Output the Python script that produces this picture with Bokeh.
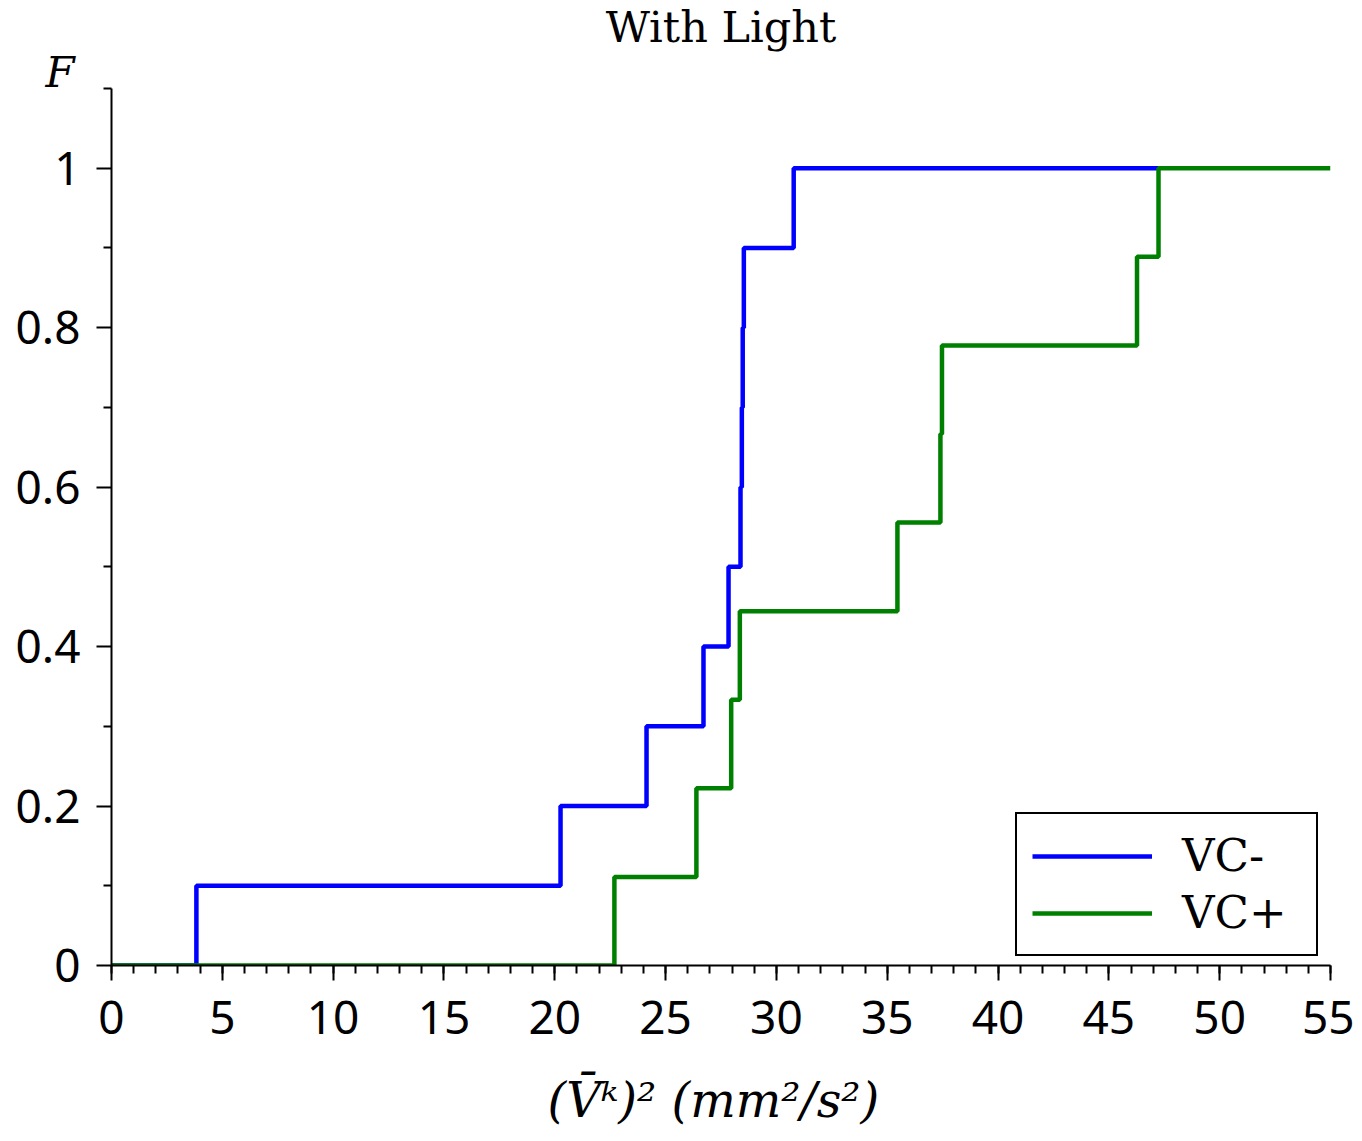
from bokeh.plotting import figure
from bokeh.models import (Range1d, FixedTicker, SingleIntervalTicker, CustomJSTickFormatter,
                          Legend, LegendItem, Title)
from bokeh.embed import file_html
from bokeh.resources import INLINE

# ---- data ----
vc_minus_x = [0.0, 3.83, 20.26, 24.14, 26.71, 27.84, 28.38, 28.44, 28.48, 28.53, 30.78, 47.24]
vc_minus_f = [0.0, 0.1, 0.2, 0.3, 0.4, 0.5, 0.6, 0.7, 0.8, 0.9, 1.0, 1.0]

vc_plus_x = [0.0, 22.69, 26.39, 27.96, 28.35, 35.46, 37.40, 37.47, 46.27, 47.24, 55.0]
vc_plus_f = [0.0, 0.1111, 0.2222, 0.3333, 0.4444, 0.5556, 0.6667, 0.7778, 0.8889, 1.0, 1.0]

x_major_interval = 5
y_major_ticks = [0, 0.2, 0.4, 0.6, 0.8, 1.0]
y_minor_ticks = [0.1, 0.3, 0.5, 0.7, 0.9, 1.1]

title_text = "With Light"
x_label = "(V\u0304\u1d4f)\u00b2  (mm\u00b2/s\u00b2)"
y_label = "F"
series_names = ["VC-", "VC+"]

W, H = 1354, 1136
TOP, BOTTOM, LEFT, RIGHT = 88, 171, 111, 24

p = figure(width=W, height=H, output_backend="svg", toolbar_location=None,
           x_range=Range1d(0, 55), y_range=Range1d(0, 1.1),
           min_border_left=LEFT, min_border_right=RIGHT, min_border_top=TOP,
           min_border_bottom=BOTTOM)
p.outline_line_color = None
p.xgrid.grid_line_color = None
p.ygrid.grid_line_color = None
p.background_fill_color = "white"

p.title.text = title_text
p.title.text_font = "DejaVu Serif"
p.title.text_font_size = "43px"
p.title.text_font_style = "normal"
p.title.text_color = "black"
p.title.align = "center"
p.title.vertical_align = "top"
p.title.text_line_height = 1.0
p.title.standoff = 0

f_title = Title(text=y_label, align="left", offset=-66, vertical_align="bottom",
                text_font="DejaVu Serif", text_font_style="italic", text_font_size="42px",
                text_color="black", text_line_height=1.0, standoff=-16)
p.add_layout(f_title, "above")

r1 = p.step(vc_minus_x, vc_minus_f, mode="after", line_color="#0000ff", line_width=4.5)
r2 = p.step(vc_plus_x, vc_plus_f, mode="after", line_color="#008000", line_width=4.5)

for ax in (p.xaxis[0], p.yaxis[0]):
    ax.axis_line_width = 2
    ax.axis_line_color = "black"
    ax.major_tick_line_width = 2
    ax.minor_tick_line_width = 2
    ax.major_tick_line_color = "black"
    ax.minor_tick_line_color = "black"
    ax.major_tick_in = 0
    ax.major_tick_out = 15
    ax.minor_tick_in = 0
    ax.minor_tick_out = 8
    ax.major_label_text_font = "Noto Sans"
    ax.major_label_text_font_size = "46px"
    ax.major_label_text_color = "black"

p.xaxis[0].ticker = SingleIntervalTicker(interval=x_major_interval, num_minor_ticks=5)
p.xaxis[0].major_label_standoff = 20
p.xaxis[0].axis_label = x_label
p.xaxis[0].axis_label_text_font = "DejaVu Serif"
p.xaxis[0].axis_label_text_font_style = "italic"
p.xaxis[0].axis_label_text_font_size = "48px"
p.xaxis[0].axis_label_text_color = "black"
p.xaxis[0].axis_label_standoff = 35

p.yaxis[0].ticker = FixedTicker(ticks=y_major_ticks, minor_ticks=y_minor_ticks)
p.yaxis[0].formatter = CustomJSTickFormatter(code="return Number(tick.toFixed(2)).toString();")
p.yaxis[0].major_label_standoff = 16

legend = Legend(items=[LegendItem(label=series_names[0], renderers=[r1]),
                       LegendItem(label=series_names[1], renderers=[r2])],
                location=(904, 9), orientation="vertical")
legend.border_line_color = "black"
legend.border_line_alpha = 1.0
legend.border_line_width = 2
legend.background_fill_color = "white"
legend.background_fill_alpha = 1
legend.label_text_font = "DejaVu Serif"
legend.label_text_font_size = "45px"
legend.label_text_color = "black"
legend.glyph_width = 120
legend.glyph_height = 48
legend.label_height = 48
legend.label_width = 119
legend.label_standoff = 30
legend.spacing = 4
legend.padding = 15
legend.margin = 0
p.add_layout(legend, "center")

open("out.html", "w").write(file_html(p, INLINE))
